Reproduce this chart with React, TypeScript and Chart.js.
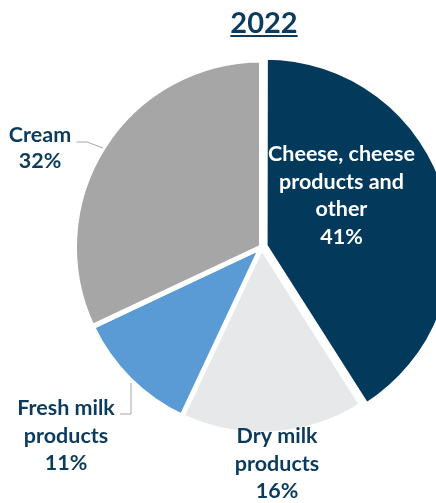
import React, { useEffect, useRef } from "react";
import { Chart, registerables } from "chart.js";

Chart.register(...registerables);

// ---- data ----
const title = "2022";
const categories = [
  "Cheese, cheese products and other",
  "Dry milk products",
  "Fresh milk products",
  "Cream",
];
const labelLines = [
  ["Cheese, cheese", "products and", "other"],
  ["Dry milk", "products"],
  ["Fresh milk", "products"],
  ["Cream"],
];
const shares = [41, 16, 11, 32];
const colors = ["#033A5C", "#E7E8EA", "#5B9BD5", "#A6A6A6"];

// ---- layout (relative to the pie centre, px) ----
const NAVY = "#0D3B5E";
const labelLayout = [
  { dx: 80, dy: -86, color: "#FFFFFF", lh: 27.5, leader: null as null | number[][] },
  { dx: 15.5, dy: 196, color: NAVY, lh: 27.5, leader: null as null | number[][] },
  {
    dx: -195.5, dy: 168, color: NAVY, lh: 27.5,
    leader: [[-141.5, 167], [-130.5, 167], [-130.5, 136]],
  },
  {
    dx: -221.5, dy: -105, color: NAVY, lh: 26,
    leader: [[-185, -105], [-174.5, -105], [-158.5, -99]],
  },
];
const FONT_FAMILY = "Lato, 'Open Sans', sans-serif";

const overlayPlugin = {
  id: "overlay",
  afterDraw(chart: any) {
    const ctx = chart.ctx as CanvasRenderingContext2D;
    const meta = chart.getDatasetMeta(0);
    const ref = meta.data[1];
    const cx = ref.x;
    const cy = ref.y;
    ctx.save();
    // title
    ctx.font = `bold 29px ${FONT_FAMILY}`;
    ctx.fillStyle = NAVY;
    ctx.textAlign = "center";
    ctx.textBaseline = "alphabetic";
    const tx = cx + 2.5;
    const ty = 33;
    ctx.fillText(title, tx, ty);
    const tw = ctx.measureText(title).width;
    ctx.fillRect(tx - tw / 2, ty + 2, tw, 2);

    // labels
    ctx.font = `bold 21.5px ${FONT_FAMILY}`;
    labelLayout.forEach((l, i) => {
      const lines = [...labelLines[i], `${shares[i]}%`];
      ctx.fillStyle = l.color;
      lines.forEach((s, k) => {
        ctx.fillText(s, cx + l.dx, cy + l.dy + k * l.lh);
      });
      if (l.leader) {
        ctx.strokeStyle = "#A6A6A6";
        ctx.lineWidth = 1;
        ctx.beginPath();
        l.leader.forEach((p, k) => {
          const x = cx + p[0];
          const y = cy + p[1];
          if (k === 0) ctx.moveTo(x, y);
          else ctx.lineTo(x, y);
        });
        ctx.stroke();
      }
    });
    ctx.restore();
  },
};

export default function App() {
  const ref = useRef<HTMLCanvasElement>(null);
  useEffect(() => {
    if (!ref.current) return;
    const chart = new Chart(ref.current, {
      type: "pie",
      data: {
        labels: categories,
        datasets: [
          {
            data: shares,
            backgroundColor: colors,
            borderColor: "#FFFFFF",
            borderWidth: 5,
            offset: [15, 0, 0, 0],
          },
        ],
      },
      options: {
        responsive: false,
        animation: false,
        events: [],
        layout: { padding: { left: 64.5, top: 50, right: 21.5, bottom: 59 } },
        plugins: {
          legend: { display: false },
          tooltip: { enabled: false },
          title: { display: false },
        },
      },
      plugins: [overlayPlugin],
    });
    return () => chart.destroy();
  }, []);
  return (
    <div
      style={{
        position: "fixed",
        left: 0,
        top: 0,
        width: 436,
        height: 503,
        overflow: "hidden",
        background: "#FFFFFF",
      }}
    >
      <canvas ref={ref} width={480} height={503} style={{ width: 480, height: 503, display: "block" }} />
    </div>
  );
}
